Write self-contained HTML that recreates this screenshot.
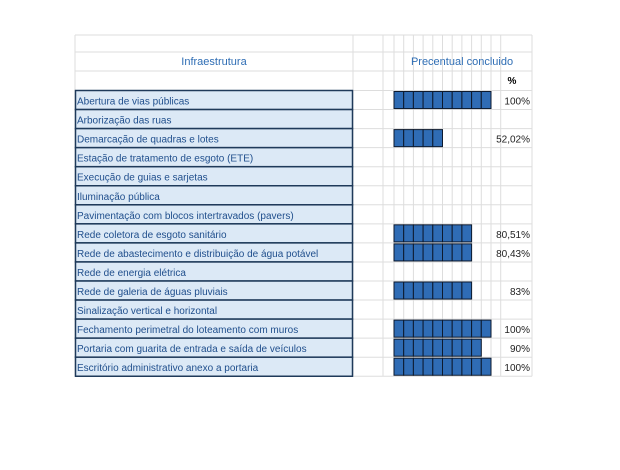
<!DOCTYPE html>
<html><head><meta charset="utf-8"><style>
body{margin:0;width:620px;height:465px;background:#fff;font-family:"Liberation Sans",sans-serif;overflow:hidden}
svg text{font-family:"Liberation Sans",sans-serif}
</style></head><body>
<svg id="c" width="620" height="465"></svg>
<script>
const categories=["Abertura de vias públicas","Arborização das ruas","Demarcação de quadras e lotes","Estação de tratamento de esgoto (ETE)","Execução de guias e sarjetas","Iluminação pública","Pavimentação com blocos intertravados (pavers)","Rede coletora de esgoto sanitário","Rede de abastecimento e distribuição de água potável","Rede de energia elétrica","Rede de galeria de águas pluviais","Sinalização vertical e horizontal","Fechamento perimetral do loteamento com muros","Portaria com guarita de entrada e saída de veículos","Escritório administrativo anexo a portaria"];
const values=[100,null,52.02,null,null,null,null,80.51,80.43,null,83,null,100,90,100];
const labels=["100%","","52,02%","","","","","80,51%","80,43%","","83%","","100%","90%","100%"];
const svg=document.getElementById('c');const NS='http://www.w3.org/2000/svg';
function mk(t,a,p){const e=document.createElementNS(NS,t);for(const k in a)e.setAttribute(k,a[k]);(p||svg).appendChild(e);return e;}
const top0=90.5,rowH=19.05,barX=394,cellW=9.7;
function y(i){return top0+i*rowH;}
function xv(v){return barX+v/100*cellW*10;}
// light grid
const g=mk('g',{});


[75,353,383].concat(Array.from({length:12},(_,k)=>barX+k*cellW)).concat([532]).forEach(x=>mk('line',{x1:x,x2:x,y1:35,y2:y(15),stroke:'#ddd','stroke-width':1},g));
[35,52,71].concat(Array.from({length:16},(_,k)=>y(k))).forEach(yy=>mk('line',{x1:75,x2:532,y1:yy,y2:yy,stroke:'#ddd','stroke-width':1},g));
let t=mk('text',{x:214,y:65,'text-anchor':'middle','font-size':11,fill:'#2e6db4'});t.textContent='Infraestrutura';

t=mk('text',{x:462,y:65,'text-anchor':'middle','font-size':11,fill:'#2e6db4'});t.textContent='Precentual concluido';

t=mk('text',{x:512,y:84,'text-anchor':'middle','font-size':10,fill:'#000','font-weight':'bold'});t.textContent='%';

categories.forEach((c,i)=>{
  const r=mk('rect',{x:75.5,y:y(i),width:277,height:rowH,fill:'#dce9f6',stroke:'#1f3a5a','stroke-width':1.5});
  
  const tx=mk('text',{x:77,y:y(i)+14,'font-size':10,fill:'#1f4e8c'});tx.textContent=c;
  
  const v=values[i];
  if(v!=null){
    const n=Math.floor(v/10+0.001);
    for(let k=0;k<n;k++){
      const b=mk('rect',{x:xv(k*10),y:y(i)+1,width:cellW,height:rowH-2,fill:'#2f6cb5',stroke:'#0d1a2e','stroke-width':1});
      
    }
  }
  if(labels[i]){const l=mk('text',{x:530,y:y(i)+14,'text-anchor':'end','font-size':10,fill:'#222'});l.textContent=labels[i];
  }
});
</script>
</body></html>
